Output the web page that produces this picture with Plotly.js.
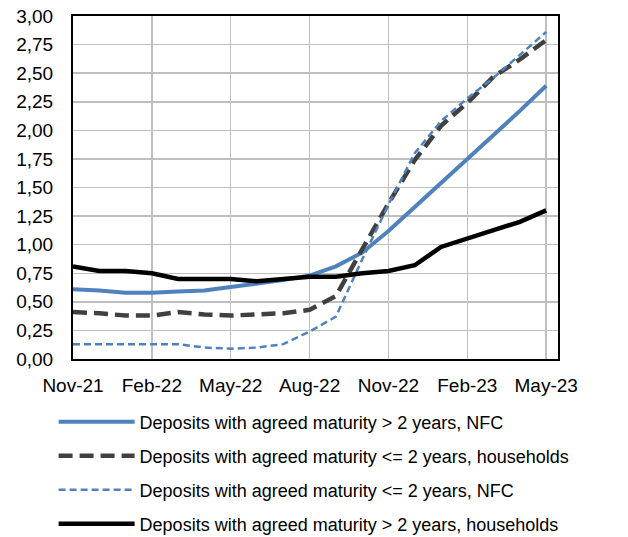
<!DOCTYPE html>
<html>
<head>
<meta charset="utf-8">
<script src="https://cdn.plot.ly/plotly-3.0.1.min.js"></script>
<style>html,body{margin:0;padding:0;background:#fff;}#chart{width:628px;height:537px;}</style>
</head>
<body>
<div id="chart"></div>
<script>
var months = ['Nov-21','Dec-21','Jan-22','Feb-22','Mar-22','Apr-22','May-22','Jun-22','Jul-22','Aug-22','Sep-22','Oct-22','Nov-22','Dec-22','Jan-23','Feb-23','Mar-23','Apr-23','May-23'];
var tickMonths = ['Nov-21','Feb-22','May-22','Aug-22','Nov-22','Feb-23','May-23'];
var yTicks = [0,0.25,0.5,0.75,1,1.25,1.5,1.75,2,2.25,2.5,2.75,3];

var seriesNames = [
  'Deposits with agreed maturity > 2 years, NFC',
  'Deposits with agreed maturity <= 2 years, households',
  'Deposits with agreed maturity <= 2 years, NFC',
  'Deposits with agreed maturity > 2 years, households'
];
var nfcLong  = [0.61,0.60,0.58,0.58,0.59,0.60,0.63,0.66,0.69,0.73,0.81,0.93,1.12,1.33,1.54,1.74,1.96,2.17,2.39];
var hhShort  = [0.41,0.40,0.38,0.38,0.41,0.39,0.38,0.39,0.40,0.43,0.55,0.96,1.36,1.74,2.04,2.24,2.47,2.62,2.79];
var nfcShort = [0.13,0.13,0.13,0.13,0.13,0.10,0.09,0.10,0.13,0.24,0.37,0.87,1.35,1.80,2.08,2.28,2.46,2.66,2.86];
var hhLong   = [0.81,0.77,0.77,0.75,0.70,0.70,0.70,0.68,0.70,0.72,0.72,0.75,0.77,0.82,0.98,1.05,1.12,1.20,1.30];

var FONT = 'Liberation Sans, Arial, sans-serif';

var traces = [
  {x: months, y: nfcLong, name: seriesNames[0], legendgroup: 'g1', mode: 'lines',
   line: {color: '#4F81BD', width: 4}},
  {x: months, y: hhShort, name: seriesNames[1], legendgroup: 'g2', mode: 'lines',
   line: {color: '#404040', width: 4.5, dash: '14px,7px'}},
  {x: months, y: nfcShort, name: seriesNames[2], legendgroup: 'g3', mode: 'lines',
   line: {color: '#4F81BD', width: 2.5, dash: '7px,4px'}},
  {x: months, y: hhLong, name: seriesNames[3], legendgroup: 'g4', mode: 'lines',
   line: {color: '#000000', width: 4.5}}
];

var layout = {
  width: 628, height: 537,
  margin: {l: 73, r: 70, t: 16, b: 178, pad: 0, autoexpand: false},
  paper_bgcolor: '#ffffff', plot_bgcolor: '#ffffff',
  separators: ',.',
  font: {family: FONT, size: 19, color: '#000000'},
  showlegend: true,
  legend: {
    orientation: 'v', x: -0.04, xanchor: 'left', y: -0.13, yanchor: 'top',
    font: {family: FONT, size: 18, color: '#000000'},
    bgcolor: 'rgba(0,0,0,0)', borderwidth: 0,
    itemwidth: 76, tracegroupgap: 7.6, traceorder: 'grouped'
  },
  xaxis: {
    type: 'category', range: [0, 18.45],
    tickmode: 'array', tickvals: tickMonths, ticktext: tickMonths,
    showgrid: true, gridcolor: '#BFBFBF', gridwidth: 1.5,
    showline: true, linecolor: '#000000', linewidth: 2, mirror: true,
    ticks: '', ticklabelstandoff: 8, zeroline: false,
    tickfont: {family: FONT, size: 19, color: '#000000'}
  },
  yaxis: {
    range: [0, 3], tickmode: 'array', tickvals: yTicks, tickformat: '.2f',
    showgrid: true, gridcolor: '#BFBFBF', gridwidth: 1.5,
    showline: true, linecolor: '#000000', linewidth: 2, mirror: true,
    ticks: '', ticklabelstandoff: 14, zeroline: false,
    tickfont: {family: FONT, size: 19, color: '#000000'}
  },
  yaxis2: {
    overlaying: 'y', side: 'right', anchor: 'x',
    range: [0, 3], tickmode: 'array', tickvals: yTicks, tickformat: '.2f',
    showgrid: false, showline: false, zeroline: false,
    ticks: '', ticklabelstandoff: 14,
    tickfont: {family: FONT, size: 19, color: '#000000'}
  }
};

Plotly.newPlot('chart', traces, layout, {displayModeBar: false, staticPlot: true});
</script>
</body>
</html>
